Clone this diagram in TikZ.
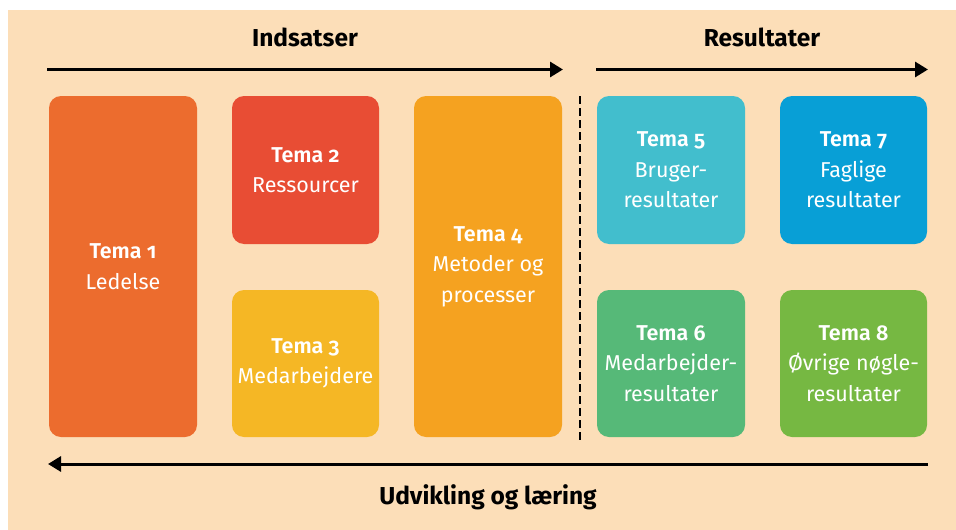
\documentclass[tikz,border=0pt]{standalone}
\usepackage{fontspec}
\setmainfont{Fira Sans}[Numbers=OldStyle, BoldFont=Fira Sans SemiBold]
\newfontfamily\headfont{Fira Sans}[Numbers=OldStyle]
\usetikzlibrary{arrows.meta}

\definecolor{bgpeach}{RGB}{252,222,184}
\definecolor{c1}{RGB}{236,108,46}
\definecolor{c2}{RGB}{232,77,52}
\definecolor{c3}{RGB}{245,183,37}
\definecolor{c4}{RGB}{245,162,32}
\definecolor{c5}{RGB}{66,190,205}
\definecolor{c6}{RGB}{86,185,120}
\definecolor{c7}{RGB}{8,159,214}
\definecolor{c8}{RGB}{118,184,66}

\tikzset{
  tema/.style={rectangle, rounded corners=12pt, draw=none, text=white,
    align=center, inner sep=0pt, minimum width=148pt,
    font=\fontsize{21.5}{30.5}\selectfont},
  tall/.style={tema, minimum height=341pt},
  short/.style={tema, minimum height=148pt},
  heading/.style={font=\headfont\bfseries\fontsize{24.5}{28}\selectfont, text=black, inner sep=0pt},
  flow/.style={line width=3pt, -{Triangle[length=13pt,width=15pt]}},
  divider/.style={line width=2pt, dash pattern=on 8pt off 4pt}
}

\begin{document}
\begin{tikzpicture}[x=1pt,y=-1pt]
  \useasboundingbox (0,0) rectangle (956,530);
  \fill[white] (0,0) rectangle (956,530);
  \fill[bgpeach] (8,10) rectangle (956,530);

  % headings
  \node[heading] (hin) at (305,37) {Indsatser};
  \node[heading] (hres) at (762,37) {Resultater};
  \node[heading] (hud) at (488,497) {Udvikling og læring};

  % arrows
  \coordinate (a1s) at (47,69.5);
  \coordinate (a1e) at (563,69.5);
  \coordinate (a2s) at (596,69.5);
  \coordinate (a2e) at (928,69.5);
  \coordinate (a3s) at (928,464);
  \coordinate (a3e) at (48,464);
  \draw[flow] (a1s) -- (a1e);
  \draw[flow] (a2s) -- (a2e);
  \draw[flow] (a3s) -- (a3e);

  % divider between efforts and results
  \coordinate (d1) at (580,96);
  \coordinate (d2) at (580,440);
  \draw[divider] (d1) -- (d2);

  % theme boxes
  \node[tall, fill=c1] (t1) at (123,266.5) {\textbf{Tema 1}\\Ledelse};
  \node[short, fill=c2, minimum width=147pt] (t2) at (305.5,170) {\textbf{Tema 2}\\Ressourcer};
  \node[short, fill=c3, minimum width=147pt, minimum height=147pt] (t3) at (305.5,363.5) {\textbf{Tema 3}\\Medarbejdere};
  \node[tall, fill=c4] (t4) at (488,266.5) {\textbf{Tema 4}\\Metoder og\\processer};
  \node[short, fill=c5] (t5) at (671,170) {\textbf{Tema 5}\\Bruger-\\resultater};
  \node[short, fill=c6, minimum height=147pt] (t6) at (671,363.5) {\textbf{Tema 6}\\Medarbejder-\\resultater};
  \node[short, fill=c7, minimum width=147pt] (t7) at (853.5,170) {\textbf{Tema 7}\\Faglige\\resultater};
  \node[short, fill=c8, minimum width=147pt, minimum height=147pt] (t8) at (853.5,363.5) {\textbf{Tema 8}\\Øvrige nøgle-\\resultater};
\end{tikzpicture}
\end{document}
